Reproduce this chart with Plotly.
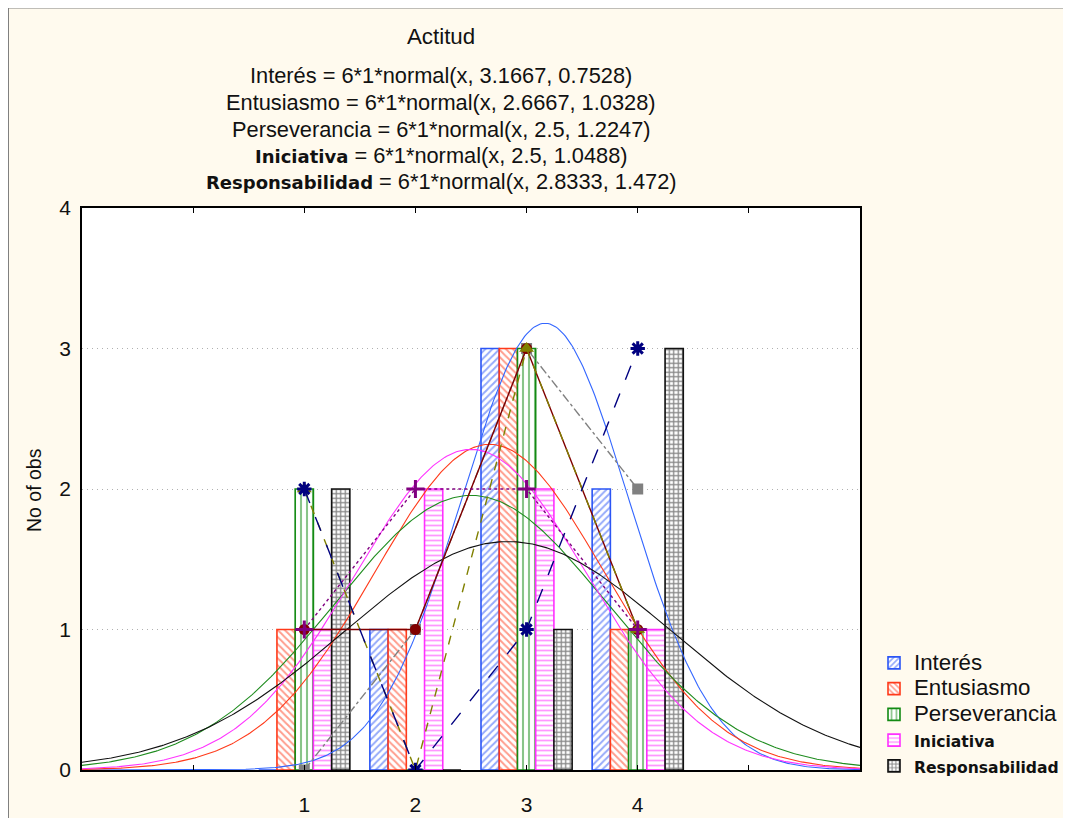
import numpy as np
import plotly.graph_objects as go

# ---------------- data ----------------
categories = [1, 2, 3, 4]
series_names = ["Interés", "Entusiasmo", "Perseverancia", "Iniciativa", "Responsabilidad"]
interes = [0, 1, 3, 2]
entusiasmo = [1, 1, 3, 1]
perseverancia = [2, 0, 3, 1]
iniciativa = [1, 2, 2, 1]
responsabilidad = [2, 0, 1, 3]
counts = [interes, entusiasmo, perseverancia, iniciativa, responsabilidad]
fit_means = [3.1667, 2.6667, 2.5, 2.5, 2.8333]
fit_sds = [0.7528, 1.0328, 1.2247, 1.0488, 1.472]
n_obs = 6
bin_width = 1
title_text = "Actitud"
y_title = "No of obs"
x_tick_vals = [0, 1, 2, 3, 4, 5]
x_tick_text = ["", "1", "2", "3", "4", ""]
y_tick_vals = [0, 1, 2, 3, 4]

# ---------------- styles ----------------
bar_colors = ["#2B55F5", "#FF3A1A", "#138A13", "#FF30FF", "#111111"]
curve_colors = ["#3366FF", "#FF3A1A", "#1E8C1E", "#FF33FF", "#111111"]
patterns = ["/", "\\", "|", "-", "+"]
pat_size = [5, 5, 6, 5, 4.5]
pat_solid = [0.4, 0.4, 0.35, 0.35, 0.5]
poly_colors = ["#808080", "#800000", "#808000", "#800080", "#000080"]
poly_symbols = ["square", "circle", "triangle-up", "cross-thin-open", "asterisk-open"]
poly_sizes = [11, 11, 13, 13, 12]
poly_dash = ["dashdot", "solid", "dash", "dot", "longdash"]
bold_names = [False, False, False, True, True]

FIG_W, FIG_H = 1071, 818
OFF = 8  # page offset of the plot div inside the browser window
# plot area in screen pixels (as seen in the window)
L, R, T, B = 82, 860, 208, 770
W, H = R - L, B - T


def px(x):
    return (x - L) / W


def py(y):
    return (B - y) / H


def name_html(i, reg_size, bold_size):
    nm = series_names[i]
    if bold_names[i]:
        return ("<span style='font-family:DejaVu Sans;font-size:%spx'><b>%s</b></span>"
                % (bold_size, nm))
    return "<span style='font-size:%spx'>%s</span>" % (reg_size, nm)


fig = go.Figure()

# bars
for i in range(5):
    fig.add_trace(go.Bar(
        x=categories, y=counts[i], name=name_html(i, 22.3, 15.6),
        marker=dict(color="white",
                    line=dict(color=bar_colors[i], width=1.6),
                    pattern=dict(shape=patterns[i], fgcolor=bar_colors[i],
                                 bgcolor="white", size=pat_size[i],
                                 solidity=pat_solid[i])),
    ))

# fitted normal curves
xs = np.linspace(-1, 6, 400)
for i in range(5):
    m, s = fit_means[i], fit_sds[i]
    ys = n_obs * bin_width * np.exp(-(xs - m) ** 2 / (2 * s * s)) / (s * np.sqrt(2 * np.pi))
    fig.add_trace(go.Scatter(x=xs, y=ys, mode="lines", showlegend=False,
                             line=dict(color=curve_colors[i], width=1.1),
                             hoverinfo="skip"))

# frequency polygons
for i in range(5):
    sym = poly_symbols[i]
    open_sym = sym.endswith("open")
    fig.add_trace(go.Scatter(
        x=categories, y=counts[i], mode="lines+markers", showlegend=False,
        line=dict(color=poly_colors[i], width=1.4, dash=poly_dash[i]),
        marker=dict(symbol=sym, size=poly_sizes[i], color=poly_colors[i],
                    line=dict(color=poly_colors[i], width=3 if open_sym else 0)),
    ))

# title & subtitle lines as annotations
annots = []
annots.append(dict(text=title_text, x=px(441), y=py(37), xref="paper", yref="paper",
                   showarrow=False, xanchor="center", yanchor="middle",
                   font=dict(size=22.3, family="Liberation Sans", color="#111111")))
line_y = [75, 102, 129, 155, 181]
for i in range(5):
    txt = "%s = %d*%d*normal(x, %g, %g)" % (name_html(i, 21.8, 18), n_obs, bin_width,
                                             fit_means[i], fit_sds[i])
    annots.append(dict(text=txt, x=px(441), y=py(line_y[i]), xref="paper", yref="paper",
                       showarrow=False, xanchor="center", yanchor="middle",
                       font=dict(size=21.8, family="Liberation Sans", color="#111111")))
annots.append(dict(text=y_title, x=px(34), y=py(490), xref="paper", yref="paper",
                   showarrow=False, textangle=-90, xanchor="center", yanchor="middle",
                   font=dict(size=19.5, family="Liberation Sans", color="#111111")))

shapes = [
    dict(type="line", xref="paper", yref="paper", x0=px(7.5), x1=px(7.5),
         y0=py(6), y1=py(830), line=dict(color="#808080", width=3)),
    dict(type="line", xref="paper", yref="paper", x0=px(6), x1=px(1080),
         y0=py(7), y1=py(7), line=dict(color="#808080", width=3)),
]

fig.update_layout(
    width=FIG_W, height=FIG_H,
    margin=dict(l=L - OFF, r=FIG_W - (R - OFF), t=T - OFF, b=FIG_H - (B - OFF), pad=0,
                autoexpand=False),
    paper_bgcolor="#FFFAEE", plot_bgcolor="white",
    barmode="group", bargap=0.18, bargroupgap=0,
    font=dict(family="Liberation Sans", size=17, color="#111111"),
    annotations=annots, shapes=shapes,
    legend=dict(x=px(874), y=py(645), xanchor="left", yanchor="top",
                bgcolor="rgba(0,0,0,0)", font=dict(size=17.5, family="Liberation Sans"),
                tracegroupgap=0, itemwidth=30),
    showlegend=True,
)
fig.update_xaxes(range=[-1, 6], tickvals=x_tick_vals, ticktext=x_tick_text,
                 ticks="inside", ticklen=5, tickcolor="black", tickwidth=1.3,
                 showline=True, linecolor="black", linewidth=1.5, mirror="ticks",
                 showgrid=False, zeroline=False, ticklabelstandoff=15,
                 tickfont=dict(size=21), automargin=False)
fig.update_yaxes(range=[0, 4], tickvals=y_tick_vals, ticks="",
                 showline=True, linecolor="black", linewidth=1.5, mirror=True,
                 showgrid=True, gridcolor="#B0B0B0", griddash="1px,4px", gridwidth=1,
                 zeroline=False, ticklabelstandoff=5, tickfont=dict(size=21),
                 automargin=False)

fig.write_html("out.html")
